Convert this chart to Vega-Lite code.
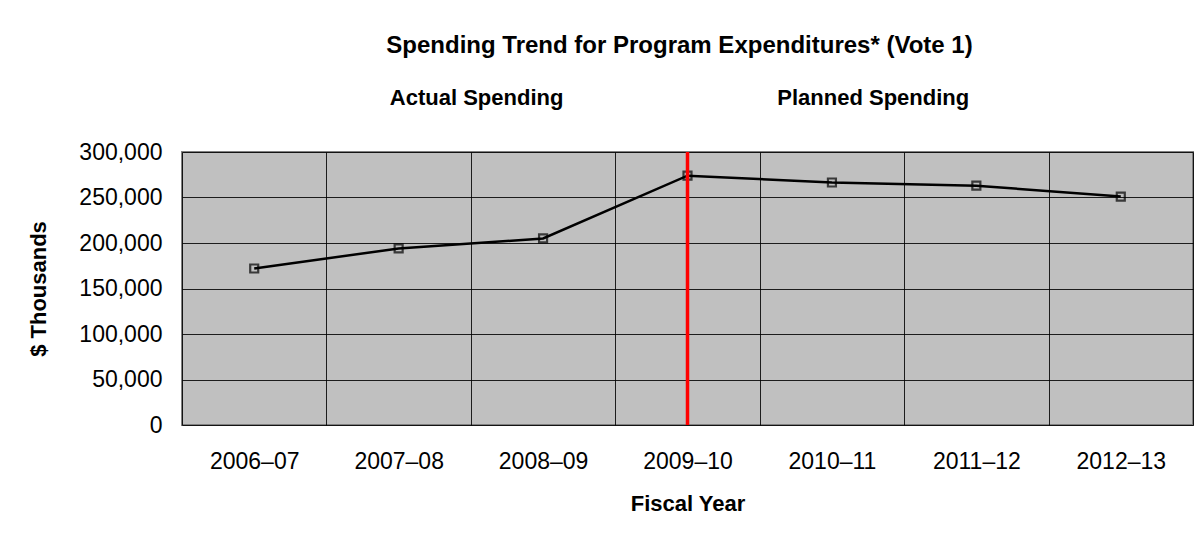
{
  "$schema": "https://vega.github.io/schema/vega-lite/v6.json",
  "autosize": {"type": "none"},
  "width": 1011,
  "height": 273,
  "padding": {"left": 182, "top": 152, "right": 6, "bottom": 113},
  "background": "white",
  "title": {
    "text": "Spending Trend for Program Expenditures* (Vote 1)",
    "subtitle": "Actual Spending\u00a0\u00a0\u00a0\u00a0\u00a0\u00a0\u00a0\u00a0\u00a0\u00a0\u00a0\u00a0\u00a0\u00a0\u00a0\u00a0\u00a0\u00a0\u00a0\u00a0\u00a0\u00a0\u00a0\u00a0\u00a0\u00a0\u00a0\u00a0\u00a0\u00a0\u00a0\u00a0\u00a0\u00a0\u00a0Planned Spending",
    "anchor": "middle",
    "dx": -8,
    "font": "Liberation Sans",
    "fontSize": 24,
    "fontWeight": "bold",
    "color": "#000000",
    "subtitleFont": "Liberation Sans",
    "subtitleFontSize": 22,
    "subtitleFontWeight": "bold",
    "subtitleColor": "#000000",
    "subtitlePadding": 30,
    "offset": 32
  },
  "data": {
    "values": [
      {"year": "2006–07", "spending": 172000},
      {"year": "2007–08", "spending": 194000},
      {"year": "2008–09", "spending": 205000},
      {"year": "2009–10", "spending": 274000},
      {"year": "2010–11", "spending": 266500},
      {"year": "2011–12", "spending": 263000},
      {"year": "2012–13", "spending": 251000}
    ]
  },
  "config": {
    "view": {"fill": "#C0C0C0", "stroke": "#808080", "strokeWidth": 2},
    "axis": {
      "labelFont": "Liberation Sans",
      "labelFontSize": 23,
      "labelColor": "#000000",
      "titleFont": "Liberation Sans",
      "titleFontSize": 22,
      "titleFontWeight": "bold",
      "titleColor": "#000000",
      "domain": false,
      "gridColor": "#000000",
      "gridWidth": 1,
      "gridOpacity": 0.85
    }
  },
  "layer": [
    {
      "mark": {"type": "line", "color": "#000000", "strokeWidth": 2.5},
      "encoding": {
        "x": {
          "field": "year",
          "type": "ordinal",
          "sort": null,
          "scale": {"paddingInner": 0, "paddingOuter": 0},
          "axis": {
            "title": "Fiscal Year",
            "labelAngle": 0,
            "ticks": false,
            "tickBand": "extent",
            "grid": true,
            "labelPadding": 25,
            "titlePadding": 20
          }
        },
        "y": {
          "field": "spending",
          "type": "quantitative",
          "scale": {"domain": [0, 300000], "nice": false},
          "axis": {
            "title": "$ Thousands",
            "values": [0, 50000, 100000, 150000, 200000, 250000, 300000],
            "format": ",d",
            "ticks": false,
            "labelPadding": 20,
            "titlePadding": 28,
            "grid": true
          }
        }
      }
    },
    {
      "mark": {"type": "point", "shape": "square", "filled": false, "color": "#000000", "strokeWidth": 2.2, "size": 64},
      "encoding": {
        "x": {"field": "year", "type": "ordinal", "sort": null},
        "y": {"field": "spending", "type": "quantitative"}
      }
    },
    {
      "data": {"values": [{"year": "2009–10"}]},
      "mark": {"type": "rule", "color": "#FF0000", "strokeWidth": 3.5},
      "encoding": {
        "x": {"field": "year", "type": "ordinal", "sort": null}
      }
    }
  ]
}
